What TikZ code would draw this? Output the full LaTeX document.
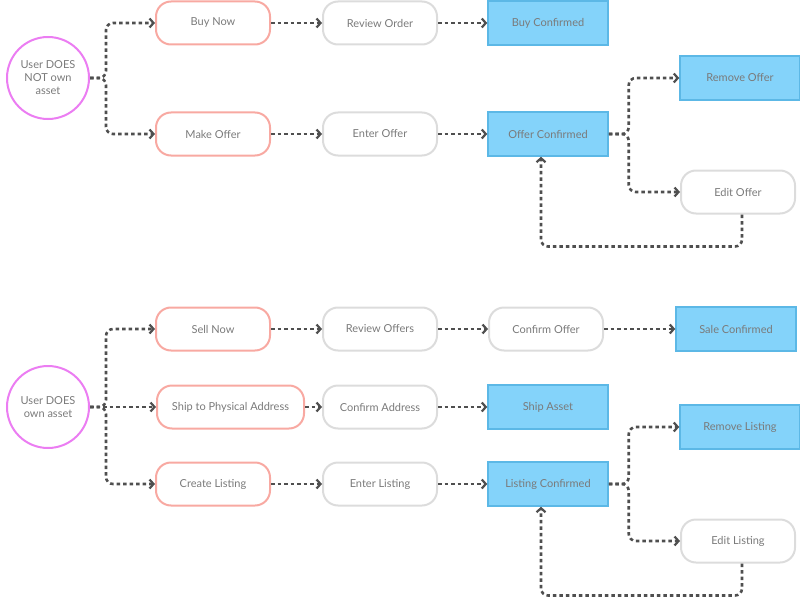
\documentclass[tikz,border=0pt]{standalone}
\usepackage{fontspec}
\setmainfont{Lato}
\usetikzlibrary{arrows.meta}
\definecolor{txtgray}{HTML}{7A7A7A}
\definecolor{usermag}{HTML}{EB7DF2}
\definecolor{actpink}{HTML}{F8A9A2}
\definecolor{boxgray}{HTML}{DCDCDC}
\definecolor{doneblue}{HTML}{5CB8E6}
\definecolor{donefill}{HTML}{84D3FA}
\definecolor{flowgray}{HTML}{4F4F4F}

\begin{document}
\begin{tikzpicture}[x=1pt,y=-1pt,
    every node/.style={font=\fontsize{11}{13}\selectfont,text=txtgray},
    user/.style={circle,draw=usermag,line width=2pt,minimum size=82pt,inner sep=0pt,align=center},
    act/.style={rectangle,rounded corners=15pt,draw=actpink,line width=2pt,minimum width=114pt,minimum height=43pt},
    plain/.style={act,draw=boxgray},
    done/.style={rectangle,draw=doneblue,fill=donefill,line width=1.5pt,minimum width=120pt,minimum height=44pt},
    flow/.style={draw=flowgray,line width=2.6pt,dash pattern=on 3.5pt off 3pt,rounded corners=7pt,
        -{Straight Barb[length=4pt,width=9pt,line width=2.2pt]}}]
    \useasboundingbox (0,0) rectangle (800,599);

    % user does not own asset
    \node at (48,78) [user] (u1) {User DOES\\NOT own\\asset};
    \node at (213,23) [act] (buy) {Buy Now};
    \node at (380,23) [plain] (rord) {Review Order};
    \node at (548,23) [done] (bconf) {Buy Confirmed};
    \node at (213,134) [act] (make) {Make Offer};
    \node at (380,134) [plain] (eoff) {Enter Offer};
    \node at (548,134) [done] (oconf) {Offer Confirmed};
    \node at (740,78) [done] (roff) {Remove Offer};
    \node at (738,192) [plain] (edoff) {Edit Offer};

    \draw[flow] (u1.east) -- ++(16,0) |- (buy.west);
    \draw[flow] (u1.east) -- ++(16,0) |- (make.west);
    \draw[flow] (buy) -- (rord);
    \draw[flow] (rord) -- (bconf);
    \draw[flow] (make) -- (eoff);
    \draw[flow] (eoff) -- (oconf);
    \draw[flow] (oconf.east) -- ++(20,0) |- (roff.west);
    \draw[flow] (oconf.east) -- ++(20,0) |- (edoff.west);
    \draw[flow] ([xshift=4pt]edoff.south) -- ++(0,32) -| ([xshift=-7pt]oconf.south);

    % user does own asset
    \node at (48,407) [user] (u2) {User DOES\\own asset};
    \node at (213,329) [act] (sell) {Sell Now};
    \node at (380,329) [plain] (roffs) {Review Offers};
    \node at (546,329) [plain] (coff) {Confirm Offer};
    \node at (736,329) [done] (sconf) {Sale Confirmed};
    \node at (230.5,407) [act,minimum width=147pt] (ship) {Ship to Physical Address};
    \node at (380,407) [plain] (caddr) {Confirm Address};
    \node at (548,407) [done] (sasset) {Ship Asset};
    \node at (213,484) [act] (clist) {Create Listing};
    \node at (380,484) [plain] (elist) {Enter Listing};
    \node at (548,484) [done] (lconf) {Listing Confirmed};
    \node at (740,427) [done] (rlist) {Remove Listing};
    \node at (738,541) [plain] (edlist) {Edit Listing};

    \draw[flow] (u2.east) -- ++(16,0) |- (sell.west);
    \draw[flow] (u2) -- (ship);
    \draw[flow] (u2.east) -- ++(16,0) |- (clist.west);
    \draw[flow] (sell) -- (roffs);
    \draw[flow] (roffs) -- (coff);
    \draw[flow] (coff) -- (sconf);
    \draw[flow] (ship) -- (caddr);
    \draw[flow] (caddr) -- (sasset);
    \draw[flow] (clist) -- (elist);
    \draw[flow] (elist) -- (lconf);
    \draw[flow] (lconf.east) -- ++(20,0) |- (rlist.west);
    \draw[flow] (lconf.east) -- ++(20,0) |- (edlist.west);
    \draw[flow] ([xshift=4pt]edlist.south) -- ++(0,32) -| ([xshift=-7pt]lconf.south);
\end{tikzpicture}
\end{document}
